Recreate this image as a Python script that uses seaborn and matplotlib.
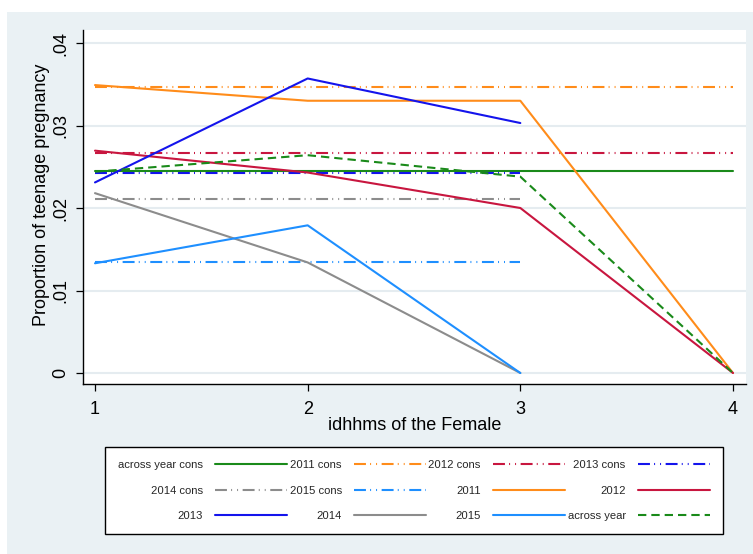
import matplotlib
matplotlib.use("Agg")
import matplotlib.pyplot as plt
from matplotlib.lines import Line2D
from matplotlib.patches import Rectangle
import pandas as pd
import seaborn as sns

# ---- data -------------------------------------------------------------
idhhms = [1, 2, 3, 4]

# year-specific proportions of teenage pregnancy by idhhms category
prop_2011 = [0.0349, 0.0330, 0.0330, 0.0]
prop_2012 = [0.02695, 0.0243, 0.0200, 0.0]
prop_2013 = [0.0231, 0.0357, 0.0303]
prop_2014 = [0.0218, 0.0134, 0.0]
prop_2015 = [0.0133, 0.0179, 0.0]
prop_across = [0.0244, 0.0264, 0.0238, 0.0]

# constant (overall) proportions per year
cons_across = 0.02445
cons_2011 = 0.03463
cons_2012 = 0.02663
cons_2013 = 0.0242
cons_2014 = 0.02113
cons_2015 = 0.01345

y_ticks = [0, 0.01, 0.02, 0.03, 0.04]
y_tick_labels = ["0", ".01", ".02", ".03", ".04"]
x_ticks = [1, 2, 3, 4]

series = [
    ("across year cons", idhhms, [cons_across] * 4),
    ("2011 cons", idhhms, [cons_2011] * 4),
    ("2012 cons", idhhms, [cons_2012] * 4),
    ("2013 cons", idhhms[:3], [cons_2013] * 3),
    ("2014 cons", idhhms[:3], [cons_2014] * 3),
    ("2015 cons", idhhms[:3], [cons_2015] * 3),
    ("2011", idhhms, prop_2011),
    ("2012", idhhms, prop_2012),
    ("2013", idhhms[:3], prop_2013),
    ("2014", idhhms[:3], prop_2014),
    ("2015", idhhms[:3], prop_2015),
    ("across year", idhhms, prop_across),
]
order = [s[0] for s in series]
df = pd.DataFrame(
    [(name, x, y) for name, xs, ys in series for x, y in zip(xs, ys)],
    columns=["series", "idhhms", "prop"],
)

# ---- styling ----------------------------------------------------------
green = "#1a8a1a"
orange = "#ff8c1a"
crimson = "#c8163f"
blue = "#1414ec"
gray = "#8c8c8c"
lblue = "#1e8fff"
palette = {
    "across year cons": green, "2011 cons": orange, "2012 cons": crimson,
    "2013 cons": blue, "2014 cons": gray, "2015 cons": lblue,
    "2011": orange, "2012": crimson, "2013": blue, "2014": gray,
    "2015": lblue, "across year": green,
}
dash_dot_dot = (8.6, 3.0, 0.7, 3.6, 0.7, 3.3)
dashes = {
    "across year cons": "", "2011 cons": dash_dot_dot, "2012 cons": dash_dot_dot,
    "2013 cons": dash_dot_dot, "2014 cons": dash_dot_dot, "2015 cons": dash_dot_dot,
    "2011": "", "2012": "", "2013": "", "2014": "", "2015": "",
    "across year": (6.0, 3.6),
}

sns.set_theme(style="white")
plt.rcParams["font.family"] = ["Liberation Sans", "DejaVu Sans"]
plt.rcParams["lines.scale_dashes"] = False

bg = "#eaf1f4"
fig = plt.figure(figsize=(7.53, 5.54), dpi=100, facecolor="white")
fig.add_artist(Rectangle((7 / 753, 0), 1, 542 / 554, transform=fig.transFigure,
                         facecolor=bg, edgecolor="none", zorder=-10))
ax = fig.add_axes([83 / 753, 170 / 554, 663 / 753, 354 / 554])
ax.set_facecolor("white")

sns.lineplot(data=df, x="idhhms", y="prop", hue="series", style="series",
             hue_order=order, style_order=order, palette=palette, dashes=dashes,
             estimator=None, sort=True, linewidth=1.5, legend=False, ax=ax)

ax.set_xlim(1 - 12 / 212.67, 4 + 13 / 212.67)
ax.set_ylim(-11 / 8250, 343 / 8250)
ax.set_xticks(x_ticks)
ax.set_xticklabels([str(v) for v in x_ticks])
ax.set_yticks(y_ticks)
ax.set_yticklabels(y_tick_labels, rotation=90, va="center")
ax.tick_params(axis="both", which="major", length=5, width=0.9, color="black",
               labelsize=13, labelcolor="black", direction="out")
ax.tick_params(axis="x", bottom=True, pad=7)
ax.tick_params(axis="y", left=True, pad=5)
ax.yaxis.grid(True, color="#e5ecf0", linewidth=1.5)
ax.xaxis.grid(False)
ax.set_axisbelow(True)
for side in ("top", "right"):
    ax.spines[side].set_visible(False)
for side in ("left", "bottom"):
    ax.spines[side].set_color("black")
    ax.spines[side].set_linewidth(1.0)

ax.set_xlabel("idhhms of the Female", fontsize=13, color="black")
ax.set_ylabel("Proportion of teenage pregnancy", fontsize=13, color="black")
ax.xaxis.label.set_va("center")
ax.yaxis.label.set_va("center")
ax.xaxis.set_label_coords(0.5, -0.116)
ax.yaxis.set_label_coords(-0.062, 0.534)

# legend: entries fill rows of four, matplotlib fills columns
handles = []
for n in order:
    h = Line2D([], [], color=palette[n], linewidth=1.5)
    if dashes[n]:
        h.set_dashes(dashes[n])
    handles.append(h)
ncol, nrow = 4, 3
idx = [r * ncol + c for c in range(ncol) for r in range(nrow)]
leg = fig.legend([handles[i] for i in idx], [order[i] for i in idx],
                 ncol=ncol, loc="center", bbox_to_anchor=(414 / 753, 1 - 490.5 / 554),
                 markerfirst=False, fontsize=8.1, handlelength=6.4, handletextpad=1.1,
                 columnspacing=0.2, labelspacing=1.4, borderpad=1.15,
                 frameon=True, fancybox=False, edgecolor="black", facecolor="white",
                 framealpha=1)
leg.get_frame().set_linewidth(1.0)

fig.savefig("out.png", dpi=100, facecolor="white")
